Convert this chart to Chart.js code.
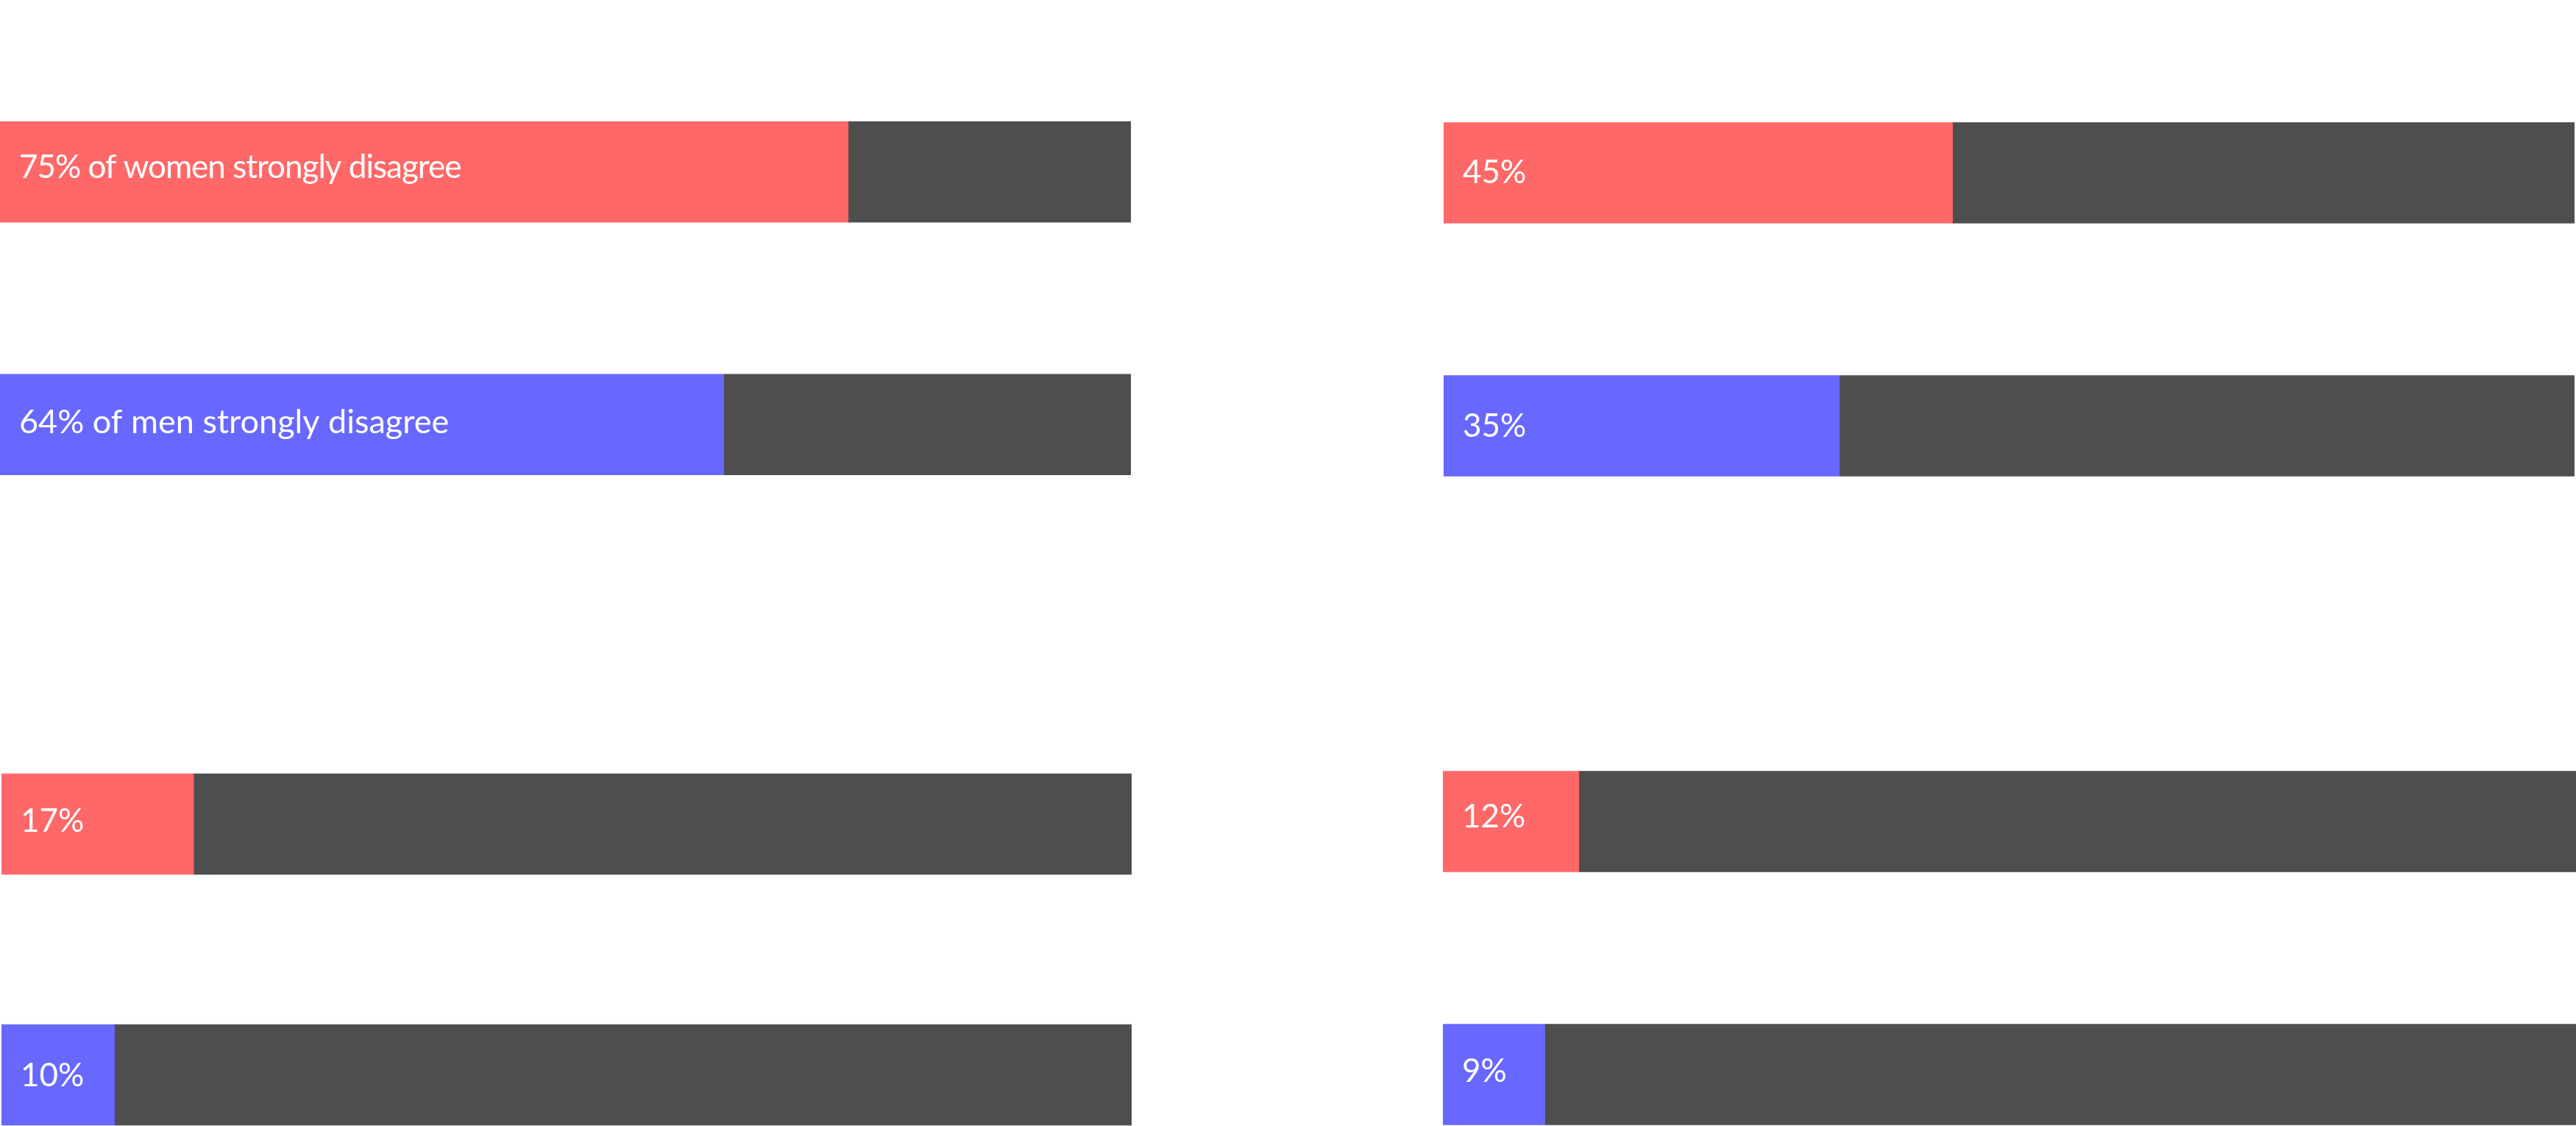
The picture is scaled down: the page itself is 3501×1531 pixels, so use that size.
<!DOCTYPE html>
<html><head><meta charset="utf-8">
<script src="https://cdn.jsdelivr.net/npm/chart.js@4.4.1/dist/chart.umd.min.js"></script>
<style>
html,body{margin:0;padding:0;background:#fff;width:3501px;height:1531px;overflow:hidden;}
canvas{position:absolute;}
</style></head><body>
<canvas id="tl" style="left:0px;top:62px" width="1537" height="687"></canvas>
<canvas id="tr" style="left:1962px;top:63px" width="1537" height="688"></canvas>
<canvas id="bl" style="left:2px;top:950px" width="1536" height="682"></canvas>
<canvas id="br" style="left:1961px;top:945px" width="1540" height="688"></canvas>
<script>
const categories = ['Women', 'Men'];
const topLeftValues = [75, 64];
const topRightValues = [45, 35];
const bottomLeftValues = [17, 10];
const bottomRightValues = [12, 9];
const topLeftLabels = ['75% of women strongly disagree', '64% of men strongly disagree'];
const topRightLabels = ['45%', '35%'];
const bottomLeftLabels = ['17%', '10%'];
const bottomRightLabels = ['12%', '9%'];
const scaleMax = 100;

const seriesColors = ['#FF6868', '#6868FF'];
const restColor = '#4E4E4E';

const inBarLabels = {
  id: 'inBarLabels',
  afterDatasetsDraw(chart, args, opts) {
    const meta = chart.getDatasetMeta(0);
    const ctx = chart.ctx;
    meta.data.forEach((bar, i) => {
      ctx.save();
      ctx.fillStyle = '#FFFFFF';
      ctx.font = '400 ' + (opts.sizes ? opts.sizes[i] : 44) + 'px Lato';
      if ('letterSpacing' in ctx) ctx.letterSpacing = opts.spacing ? opts.spacing[i] : '0px';
      ctx.textBaseline = 'middle';
      ctx.textAlign = 'left';
      const p = bar.getProps(['base', 'y'], true);
      ctx.fillText(opts.labels[i], p.base + opts.padX, p.y + (opts.dy ? opts.dy[i] : 0));
      ctx.restore();
    });
  }
};

function makePanel(id, values, labels, dy, sizes, spacing) {
  const rest = values.map(v => scaleMax - v);
  new Chart(document.getElementById(id), {
    type: 'bar',
    data: {
      labels: categories,
      datasets: [
        { data: values, backgroundColor: seriesColors, borderWidth: 0, barThickness: 137 },
        { data: rest, backgroundColor: restColor, borderWidth: 0, barThickness: 137 }
      ]
    },
    options: {
      indexAxis: 'y',
      responsive: false,
      animation: false,
      events: [],
      layout: { padding: 0 },
      scales: {
        x: { display: false, stacked: true, min: 0, max: scaleMax },
        y: { display: false, stacked: true, offset: true }
      },
      plugins: {
        legend: { display: false },
        tooltip: { enabled: false },
        inBarLabels: { labels: labels, padX: 26, dy: dy, sizes: sizes, spacing: spacing }
      }
    },
    plugins: [inBarLabels]
  });
}

makePanel('tl', topLeftValues, topLeftLabels, [-6, -3], [44, 45], ['-1px', '0px']);
makePanel('tr', topRightValues, topRightLabels, [0, 1], [44, 44], ['0px', '0px']);
makePanel('bl', bottomLeftValues, bottomLeftLabels, [-4, 1], [44, 44], ['0px', '0px']);
makePanel('br', bottomRightValues, bottomRightLabels, [-6, -4], [44, 44], ['0px', '0px']);
</script>
</body></html>
